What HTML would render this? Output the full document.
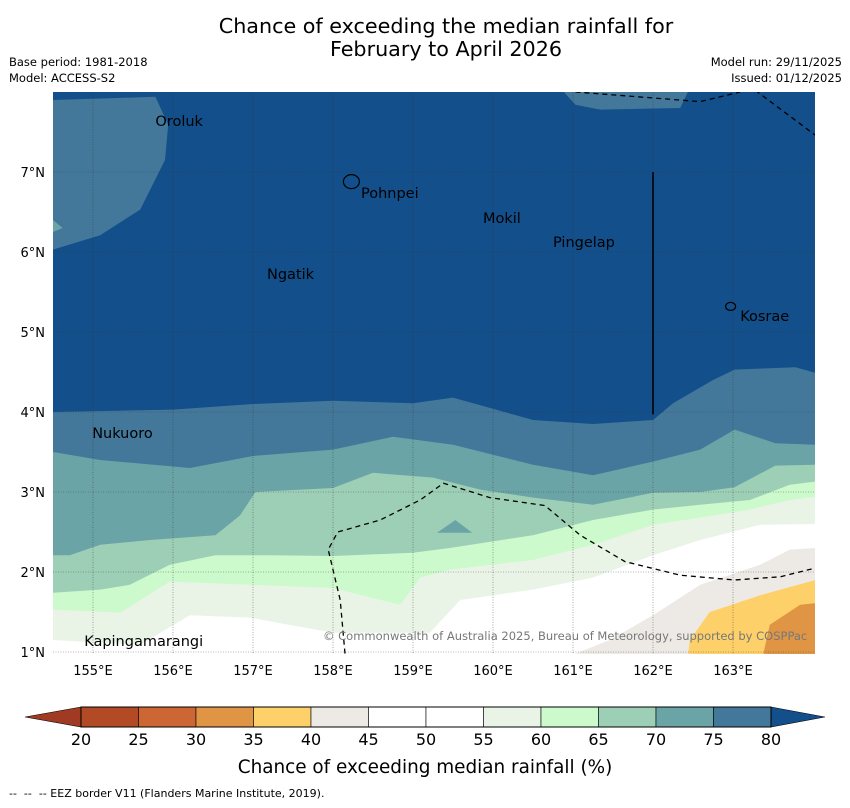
<!DOCTYPE html>
<html><head><meta charset="utf-8">
<style>
html,body{margin:0;padding:0;background:#fff;}
body{width:850px;height:804px;overflow:hidden;font-family:"DejaVu Sans","Liberation Sans",sans-serif;}
</style></head>
<body>
<svg id="chart" width="850" height="804" xmlns="http://www.w3.org/2000/svg" font-family="DejaVu Sans, Liberation Sans, sans-serif">
<text x="446" y="33" font-size="20.7" text-anchor="middle">Chance of exceeding the median rainfall for</text>
<text x="446" y="56" font-size="20.7" text-anchor="middle">February to April 2026</text>
<text x="9" y="66" font-size="11.5">Base period: 1981-2018</text>
<text x="9" y="82" font-size="11.5">Model: ACCESS-S2</text>
<text x="842" y="66" font-size="11.5" text-anchor="end">Model run: 29/11/2025</text>
<text x="842" y="82" font-size="11.5" text-anchor="end">Issued: 01/12/2025</text>
<defs><clipPath id="mapclip"><rect x="53" y="92" width="762" height="562"/></clipPath></defs>
<g id="map" clip-path="url(#mapclip)"></g>
<g id="overlay"></g>
<g id="cbar"></g>
<text x="425" y="773" font-size="18.4" text-anchor="middle">Chance of exceeding median rainfall (%)</text>
<text x="9" y="797" font-size="11">-- &#160;-- &#160;-- EEZ border V11 (Flanders Marine Institute, 2019).</text>
</svg>
<script>
// ---- data ----
const lonTicks=[155,156,157,158,159,160,161,162,163];
const latTicks=[1,2,3,4,5,6,7];
const cbarLevels=[20,25,30,35,40,45,50,55,60,65,70,75,80];
const cbarColors=["#b34a26","#cc6633","#e09545","#fdd06a","#edeae5","#ffffff","#ffffff","#e9f4e7","#ccfacc","#9dcfb7","#6ba4a6","#43789a"];
const underColor="#a03a22", overColor="#134f8a";
const c80=[[154.5,4.0],[156,4.03],[157,4.1],[158,4.14],[159,4.11],[159.5,4.18],[160.5,3.9],[161.25,3.85],[162,3.9],[162.25,4.11],[162.75,4.4],[163.02,4.53],[163.78,4.56],[164.03,4.49]];
const c75=[[154.5,3.5],[155.09,3.4],[156.21,3.3],[157,3.45],[158,3.53],[158.75,3.69],[159.5,3.59],[160.5,3.34],[161.25,3.21],[162,3.38],[162.59,3.53],[163.02,3.78],[163.53,3.61],[164.03,3.59]];
const c70=[[154.5,2.21],[154.71,2.21],[155.09,2.34],[155.71,2.4],[156.53,2.46],[156.84,2.71],[157.03,3.0],[158,3.05],[158.5,3.24],[159.25,3.18],[159.84,3.03],[160.5,2.93],[161.25,2.84],[162,2.99],[162.59,3.0],[163.02,3.06],[163.53,3.33],[164.03,3.34]];
const c65=[[154.5,1.74],[155.09,1.78],[155.46,1.84],[155.96,2.09],[156.53,2.21],[157.21,2.21],[158,2.2],[159,2.24],[159.46,2.3],[160.5,2.46],[161.25,2.65],[162,2.78],[162.59,2.84],[163.21,2.9],[163.71,3.09],[164.03,3.13]];
const c60=[[154.5,1.53],[155.34,1.49],[155.96,1.88],[156.96,1.84],[158,1.8],[158.84,1.59],[159.09,1.93],[159.46,2.03],[160.5,2.15],[161.25,2.34],[162,2.59],[162.59,2.68],[163.21,2.78],[163.71,2.9],[164.03,2.94]];
const c55=[[154.5,1.15],[155.59,1.09],[156.21,1.46],[156.96,1.43],[158,1.24],[159.21,1.24],[159.59,1.65],[160.5,1.78],[161.25,1.93],[162,2.21],[162.59,2.4],[163.34,2.59],[164.03,2.6]];
const c45=[[161.03,0.98],[161.46,1.15],[162,1.46],[162.59,1.84],[163.34,2.09],[163.71,2.28],[164.03,2.3]];
const c40=[[162.44,0.98],[162.46,1.15],[162.71,1.5],[163.34,1.71],[164.03,1.9]];
const c35=[[163.38,0.98],[163.46,1.34],[163.84,1.59],[164.03,1.61]];
const patchNW=[[154.5,7.9],[155.78,7.94],[155.94,7.59],[155.9,7.15],[155.59,6.53],[155.09,6.21],[154.5,6.03]];
const patchNE=[[160.84,8.05],[161.03,7.84],[161.34,7.78],[162.34,7.8],[162.46,8.05]];
const patchTri=[[159.3,2.49],[159.53,2.65],[159.74,2.49]];
const patchLeft=[[154.5,6.4],[154.62,6.3],[154.5,6.25]];
const eezSouth=[[158.15,0.98],[158.09,1.65],[157.94,2.28],[158.06,2.5],[158.59,2.65],[159.09,2.9],[159.38,3.11],[159.96,2.93],[160.65,2.83],[161.09,2.46],[161.65,2.13],[162.34,1.96],[163.02,1.9],[163.59,1.94],[164.03,2.05]];
const eezNorth=[[161.03,8.0],[162.59,7.88],[163.09,8.0]];
const eezNE=[[163.28,8.02],[164.03,7.46]];
const eezLine=[[162,7],[162,3.97]];
const islandNames=["Oroluk","Pohnpei","Mokil","Pingelap","Ngatik","Kosrae","Nukuoro","Kapingamarangi"];
const islandLon=[155.78,158.35,159.875,160.75,157.175,163.09,154.99,154.89];
const islandLat=[7.575,6.675,6.36,6.06,5.66,5.14,3.675,1.075];
// ---- axes ----
const X=lon=>93+(lon-155)*80;
const Y=lat=>172+(7-lat)*80;
const NS="http://www.w3.org/2000/svg";
function mk(tag,attrs,parent){const e=document.createElementNS(NS,tag);for(const k in attrs)e.setAttribute(k,attrs[k]);parent.appendChild(e);return e;}
const map=document.getElementById('map'), ov=document.getElementById('overlay'), cb=document.getElementById('cbar');
const pts=a=>a.map(p=>X(p[0]).toFixed(1)+','+Y(p[1]).toFixed(1)).join(' ');
let bg=mk('rect',{x:53,y:92,width:762,height:562,fill:overColor},map);


function below(arr,color,name){const p=arr.concat([[164.1,0.9],[154.4,0.9]]);const e=mk('polygon',{points:pts(p),fill:color},map);

}
function region(arr,color,name){const e=mk('polygon',{points:pts(arr),fill:color},map);

}
region(patchNW,cbarColors[11],'region-75-80-northwest');
region(patchNE,cbarColors[11],'region-75-80-northeast');
region(patchLeft,cbarColors[10],'region-70-75-left');
below(c80,cbarColors[11],'region-75-80');
below(c75,cbarColors[10],'region-70-75');
below(c70,cbarColors[9],'region-65-70');
region(patchTri,cbarColors[10],'region-70-75-patch');
below(c65,cbarColors[8],'region-60-65');
below(c60,cbarColors[7],'region-55-60');
below(c55,cbarColors[6],'region-50-55');
function right(arr,color,name){const p=arr.concat([[164.1,2.3],[164.1,0.9]]);const e=mk('polygon',{points:pts(p),fill:color},map);

}
right(c45.concat([[164.1,c45[c45.length-1][1]]]),cbarColors[4],'region-40-45');
right(c40.concat([[164.1,c40[c40.length-1][1]]]),cbarColors[3],'region-35-40');
right(c35.concat([[164.1,c35[c35.length-1][1]]]),cbarColors[2],'region-30-35');
// grid
lonTicks.forEach(l=>{const g=mk('line',{x1:X(l),x2:X(l),y1:92,y2:654,stroke:'#333','stroke-width':0.6,'stroke-dasharray':'1,1.5',opacity:0.7},map);


const t=mk('text',{x:X(l),y:675,'font-size':13,'text-anchor':'middle'},ov);t.textContent=l+'°E';

});
latTicks.forEach(l=>{const g=mk('line',{x1:53,x2:815,y1:Y(l),y2:Y(l),stroke:'#333','stroke-width':0.6,'stroke-dasharray':'1,1.5',opacity:0.7},map);


const t=mk('text',{x:45,y:Y(l)+5,'font-size':13,'text-anchor':'end'},ov);t.textContent=l+'°N';

});
// EEZ
[eezSouth,eezNorth,eezNE].forEach(a=>{const e=mk('polyline',{points:pts(a),fill:'none',stroke:'#000','stroke-width':1.3,'stroke-dasharray':'5,4'},map);

});
const sl=mk('polyline',{points:pts(eezLine),fill:'none',stroke:'#000','stroke-width':1.6},map);


// islands
const ph=mk('ellipse',{cx:X(158.23),cy:Y(6.88),rx:8,ry:7,fill:'none',stroke:'#000','stroke-width':1.2},map);


const ks=mk('ellipse',{cx:X(162.97),cy:Y(5.32),rx:5,ry:4,fill:'none',stroke:'#000','stroke-width':1.2},map);


islandNames.forEach((n,i)=>{const t=mk('text',{x:X(islandLon[i]),y:Y(islandLat[i]),'font-size':14.5},map);t.textContent=n;

});
const cr=mk('text',{x:323,y:640,'font-size':11.5,fill:'#777'},map);cr.textContent='© Commonwealth of Australia 2025, Bureau of Meteorology, supported by COSPPac';


// colorbar
const cx=v=>81+(v-20)/60*690;
const cy0=707,cy1=727;
cbarColors.forEach((c,i)=>{const r=mk('rect',{x:cx(cbarLevels[i]),y:cy0,width:cx(cbarLevels[i+1])-cx(cbarLevels[i]),height:cy1-cy0,fill:c,stroke:'#000','stroke-width':0.6},cb);

});
const tl=mk('polygon',{points:`${cx(20)},${cy0} 25,717 ${cx(20)},${cy1}`,fill:underColor,stroke:'#000','stroke-width':0.6},cb);


const tr=mk('polygon',{points:`${cx(80)},${cy0} 825,717 ${cx(80)},${cy1}`,fill:overColor,stroke:'#000','stroke-width':0.6},cb);


mk('rect',{x:cx(20),y:cy0,width:cx(80)-cx(20),height:cy1-cy0,fill:'none',stroke:'#000','stroke-width':1},cb);
cbarLevels.forEach(v=>{const t=mk('text',{x:cx(v),y:745,'font-size':16,'text-anchor':'middle'},cb);t.textContent=v;

});
</script>
</body></html>
